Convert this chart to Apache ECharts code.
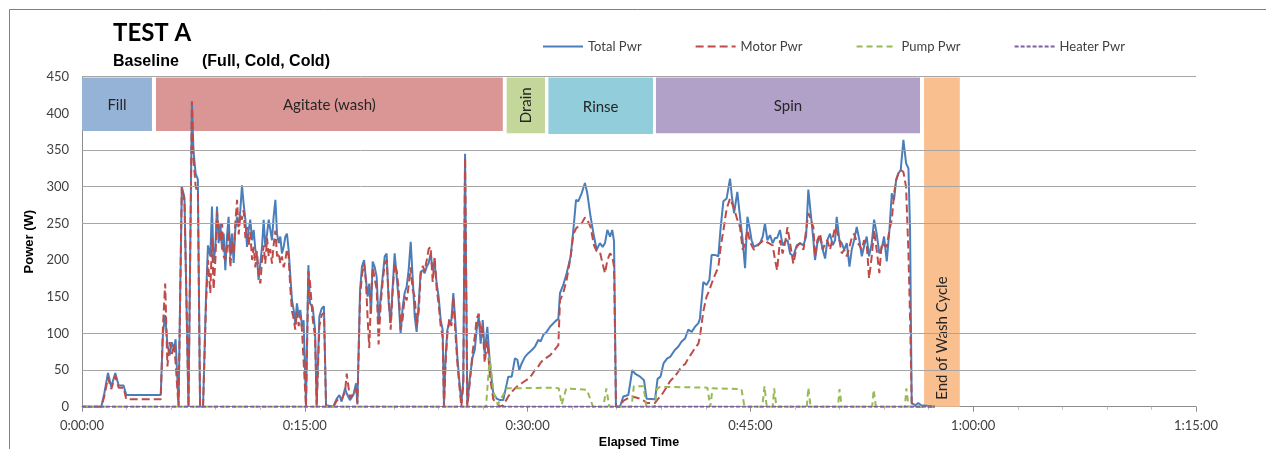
<!DOCTYPE html>
<html>
<head>
<meta charset="utf-8">
<script src="https://cdn.jsdelivr.net/npm/echarts@6/dist/echarts.min.js"></script>
<style>
html,body{margin:0;padding:0;background:#fff;overflow:hidden;}
#chart{width:1266px;height:449px;}
</style>
</head>
<body>
<div id="chart"></div>
<script>
// ---------- DATA (time in minutes, power in W) ----------
const times = [
  0, 1.3, 1.5, 1.75, 1.97, 2.24, 2.47, 2.8, 2.98, 5.3,
  5.45, 5.6, 5.75, 5.9, 6.05, 6.2, 6.3, 6.5, 6.72, 6.9, 7.17, 7.4, 7.5, 7.65, 7.8, 7.95, 8.15,
  8.35, 8.48, 8.64, 8.75, 8.86, 8.98, 9.09, 9.2, 9.31, 9.43, 9.54, 9.65, 9.76, 9.87, 9.99,
  10.1, 10.21, 10.32, 10.44, 10.55, 10.66, 10.77, 10.88, 11.0, 11.11, 11.22, 11.33, 11.45, 11.56, 11.67, 11.78, 11.89,
  12.01, 12.12, 12.23, 12.34, 12.46, 12.57, 12.68, 12.79, 12.9, 13.02, 13.13, 13.24, 13.35, 13.46, 13.58, 13.69, 13.8, 13.91,
  14.03, 14.14, 14.25, 14.36, 14.47, 14.59, 14.7, 14.81, 14.92, 15.08,
  15.24, 15.35, 15.53, 15.69, 15.8, 15.98, 16.14, 16.29, 16.43, 16.92, 17.15, 17.33, 17.48, 17.71, 17.82, 18.04, 18.27, 18.45, 18.54,
  18.72, 18.85, 18.99, 19.12, 19.23, 19.34, 19.46, 19.57, 19.7, 19.84, 19.97, 20.11, 20.24, 20.38, 20.51, 20.65, 20.78, 20.92,
  21.05, 21.19, 21.32, 21.45, 21.59, 21.72, 21.86, 21.99, 22.13, 22.26, 22.4, 22.53, 22.67, 22.8, 22.94, 23.07, 23.21, 23.34, 23.47,
  23.61, 23.74, 23.88, 24.01, 24.15, 24.28, 24.37, 24.48, 24.6, 24.73, 24.87, 25.0, 25.14, 25.27, 25.4, 25.54, 25.67, 25.79, 25.94,
  26.12, 26.3, 26.44, 26.57, 26.71, 26.84, 26.98, 27.11, 27.29, 27.47, 27.69, 27.92, 28.14,
  28.36, 28.7, 28.93, 29.15, 29.31, 29.44, 29.6, 29.82, 30.05, 30.27, 30.5, 30.72, 30.88, 31.06, 31.28, 31.51, 31.84, 32.07,
  32.18, 32.4, 32.63, 32.9, 33.08, 33.26, 33.41, 33.64, 33.86, 34.02, 34.24, 34.47, 34.65, 34.87, 35.05, 35.21, 35.37, 35.55, 35.7, 35.82,
  35.95, 36.22, 36.44, 36.78, 37.05, 37.23, 37.57, 37.84, 38.01, 38.58,
  38.75, 38.95, 39.15, 39.4, 39.6, 39.9, 40.15, 40.37, 40.6, 40.82, 41.05, 41.27, 41.5, 41.6, 41.83, 42.05, 42.24, 42.39, 42.62, 42.84,
  43.0, 43.18, 43.4, 43.63, 43.74, 43.9, 44.12, 44.3, 44.48, 44.64, 44.8, 44.97, 45.08, 45.24, 45.42, 45.65, 45.83, 45.98, 46.14, 46.32,
  46.5, 46.66, 46.8, 46.99, 47.17, 47.33, 47.5, 47.67, 47.89, 48.12, 48.34, 48.57, 48.75, 48.9, 49.06, 49.24, 49.35, 49.51, 49.69, 49.87,
  50.03, 50.18, 50.36, 50.54, 50.7, 50.81, 50.99, 51.15, 51.31, 51.49, 51.67, 51.82, 51.98, 52.16, 52.34, 52.5, 52.65, 52.83, 52.99,
  53.17, 53.33, 53.5, 53.68, 53.84, 54.0, 54.18, 54.36, 54.52, 54.67, 54.81, 54.96, 55.12, 55.3, 55.48, 55.64, 55.75, 55.86,
  56.1, 56.3, 56.5, 57.0, 57.4
];
const totalPwr = [
  0, 0, 18, 46, 27, 46, 29, 29, 16, 16,
  100, 125, 85, 70, 88, 78, 92, 2, 300, 285, 0, 416, 350, 318, 310, 0, 0,
  150, 220, 205, 273, 196, 218, 273, 223, 250, 214, 236, 186, 232, 259, 205,
  236, 196, 241, 259, 246, 268, 302, 277, 255, 218, 241, 255, 227, 241, 214, 205, 173,
  196, 218, 255, 218, 236, 255, 241, 227, 259, 282, 236, 223, 232, 209, 218, 232, 236, 214,
  177, 145, 132, 114, 141, 123, 132, 109, 118, 3,
  193, 141, 136, 105, 3, 123, 134, 137, 2, 0, 11, 16, 7, 25, 18, 9, 16, 32, 3,
  159, 191, 200, 202, 150, 168, 127, 198, 191, 177, 114, 150, 177, 205, 209, 141, 114, 164,
  209, 177, 145, 100, 136, 155, 164, 186, 225, 177, 123, 102, 141, 184, 186, 182, 191, 196, 209,
  186, 196, 168, 150, 118, 105, 3, 68, 105, 114, 118, 155, 114, 68, 36, 5, 36, 345, 3,
  41, 68, 77, 105, 123, 86, 118, 73, 109, 55, 18, 11, 9,
  9, 41, 41, 66, 64, 50, 59, 68, 73, 77, 82, 91, 89, 98, 102, 109, 116, 120,
  155, 166, 182, 205, 241, 282, 280, 291, 305, 291, 259, 232, 214, 223, 218, 223, 241, 232, 241, 225,
  0, 0, 14, 16, 50, 45, 41, 36, 11, 10,
  38, 41, 59, 66, 68, 77, 82, 89, 93, 105, 102, 109, 114, 120, 170, 166, 173, 207, 207, 205,
  245, 280, 284, 311, 289, 264, 293, 259, 227, 189, 259, 241, 227, 218, 220, 223, 232, 250, 227, 234,
  223, 230, 230, 241, 220, 225, 227, 209, 205, 220, 223, 220, 232, 296, 264, 227, 200, 223, 232, 214,
  202, 227, 236, 220, 227, 259, 227, 223, 214, 223, 191, 214, 227, 245, 227, 205, 218, 232, 205,
  223, 255, 236, 209, 216, 232, 198, 241, 291, 282, 309, 318, 323, 364, 332, 325, 241, 5,
  2, 5, 2, 1, 0
];
const motorPwr = [
  0, 0, 14, 40, 24, 42, 26, 26, 10, 10,
  110, 168, 55, 88, 72, 85, 60, 0, 300, 280, 0, 416, 340, 300, 292, 0, 0,
  140, 200, 155, 230, 160, 200, 265, 240, 225, 250, 205, 200, 215, 240, 190,
  225, 210, 250, 282, 235, 262, 255, 268, 230, 245, 220, 238, 200, 218, 190, 212, 180,
  168, 200, 220, 195, 230, 205, 215, 195, 220, 240, 205, 210, 195, 205, 190, 200, 215, 205,
  160, 130, 120, 105, 130, 110, 125, 105, 107, 0,
  185, 170, 120, 95, 0, 110, 125, 128, 0, 0, 8, 12, 10, 20, 45, 12, 18, 25, 5,
  150, 180, 195, 170, 120, 80, 150, 190, 175, 160, 85, 140, 170, 195, 200, 150, 105, 160,
  195, 185, 160, 105, 120, 150, 145, 165, 190, 160, 150, 110, 130, 180, 192, 185, 200, 215, 218,
  170, 205, 160, 140, 110, 95, 0, 60, 100, 120, 110, 150, 100, 60, 30, 0, 30, 340, 0,
  35, 75, 95, 120, 127, 100, 110, 60, 90, 40, 10, 5, 0,
  2, 14, 20, 25, 28, 30, 32, 35, 38, 43, 50, 55, 60, 64, 67, 70, 78, 84,
  145, 155, 173, 205, 235, 243, 246, 250, 258, 255, 245, 220, 212, 211, 195, 182, 200, 209, 205, 191,
  0, 0, 8, 12, 14, 13, 11, 8, 5, 5,
  10, 14, 20, 28, 35, 41, 48, 55, 58, 66, 73, 80, 86, 95, 130, 150, 159, 168, 180, 190,
  218, 240, 270, 284, 285, 270, 255, 245, 214, 222, 241, 225, 220, 214, 218, 223, 226, 227, 224, 222,
  220, 200, 186, 227, 209, 223, 245, 223, 195, 218, 223, 214, 240, 264, 255, 245, 205, 227, 236, 214,
  223, 227, 214, 230, 245, 240, 227, 209, 214, 205, 218, 230, 236, 225, 220, 214, 227, 222, 175,
  205, 241, 214, 182, 223, 220, 218, 241, 255, 290, 309, 318, 323, 320, 300, 210, 120, 5,
  0, 0, 0, 0, 0
];
const pumpTimes = [
  0, 27.2, 27.45, 27.7, 28.0, 28.6, 31.7, 32.1, 32.3, 32.6, 34.0, 34.4, 35.1, 35.3, 35.5,
  37.0, 37.15, 37.8, 38.0, 38.55, 38.7, 38.9, 42.1, 42.3, 42.45, 44.4, 44.6,
  45.8, 45.95, 46.1, 46.5, 46.6, 46.75, 48.8, 48.9, 49.05, 50.9, 51.0, 51.15,
  53.2, 53.3, 53.45, 55.4, 55.5, 55.65, 57.4
];
const pumpPwr = [
  0, 0, 68, 20, 3, 25, 26, 25, 3, 25, 23, 0, 0, 25, 0,
  0, 28, 28, 0, 0, 24, 27, 26, 0, 25, 24, 0,
  0, 28, 0, 0, 25, 0, 0, 26, 0, 0, 24, 0,
  0, 23, 0, 0, 25, 0, 0
];
const heaterTimes = [0, 57.4];
const heaterPwr = [0, 0];

const phaseNames = ['Fill', 'Agitate (wash)', 'Drain', 'Rinse', 'Spin', 'End of Wash Cycle'];
const phaseStart = [0, 4.98, 28.59, 31.4, 38.64, 56.69];
const phaseEnd = [4.71, 28.33, 31.17, 38.44, 56.42, 59.1];
const phaseTop = [449, 449, 449, 449, 449, 449];
const phaseBottom = [376, 376, 373, 372, 373, 0];

const gridValues = [50, 100, 250, 300, 350, 450];
const yTicks = { min: 0, max: 450, step: 50 };
const xTicks = { min: 0, max: 75, step: 15 };
const seriesNames = ['Total Pwr', 'Motor Pwr', 'Pump Pwr', 'Heater Pwr'];

// ---------- STYLE ----------
const phaseColors = ['#95B3D7', '#DA9694', '#C4D79B', '#92CDDC', '#B1A0C7', '#FABF8F'];
const phaseVertical = [false, false, true, false, false, true];
const FONT = 'Lato, "Open Sans", sans-serif';

function fmtTime(m) {
  const h = Math.floor(m / 60);
  const mm = Math.round(m - h * 60);
  return h + ':' + (mm < 10 ? '0' : '') + mm + ':00';
}

const chart = echarts.init(document.getElementById('chart'), null, { renderer: 'canvas' });

const option = {
  animation: false,
  backgroundColor: '#ffffff',
  grid: { left: 82, right: 70, top: 76.7, bottom: 42.3, containLabel: false, outerBoundsMode: 'none' },
  graphic: {
    elements: [
      { type: 'polyline', shape: { points: [[9.5, 449], [9.5, 9.5], [1266, 9.5]] }, style: { stroke: '#7f7f7f', lineWidth: 1, fill: null }, silent: true, z: 100 },
      { type: 'text', left: 113, top: 21, style: { text: 'TEST A', font: 'bold 24px ' + FONT, fill: '#000' } },
      { type: 'text', left: 113, top: 54, style: { text: 'Baseline', font: 'bold 16px "Liberation Sans", Arial, sans-serif', fill: '#000' } },
      { type: 'text', left: 202, top: 54, style: { text: '(Full, Cold, Cold)', font: 'bold 16px "Liberation Sans", Arial, sans-serif', fill: '#000' } }
    ]
  },
  legend: {
    data: seriesNames,
    left: 537,
    top: 35,
    itemWidth: 40,
    itemHeight: 14,
    itemGap: 53,
    selectedMode: false,
    itemStyle: { opacity: 0 },
    textStyle: { fontFamily: FONT, fontSize: 13, color: '#404040' }
  },
  xAxis: {
    type: 'value',
    min: xTicks.min,
    max: xTicks.max,
    interval: xTicks.step,
    name: 'Elapsed Time',
    nameLocation: 'middle',
    nameGap: 29,
    nameMoveOverlap: false,
    nameTextStyle: { fontFamily: '"Liberation Sans", Arial, sans-serif', fontWeight: 'bold', fontSize: 12.5, color: '#000' },
    axisLine: { show: true, onZero: false, lineStyle: { color: '#8c8c8c', width: 1 } },
    axisTick: { show: true, length: 5, lineStyle: { color: '#8c8c8c' } },
    minorTick: { show: true, splitNumber: 5, length: 3, lineStyle: { color: '#bfbfbf' } },
    axisLabel: { margin: 13, fontFamily: FONT, fontSize: 13, color: '#404040', formatter: fmtTime },
    splitLine: { show: false }
  },
  yAxis: {
    type: 'value',
    min: yTicks.min,
    max: yTicks.max,
    interval: yTicks.step,
    name: 'Power (W)',
    nameLocation: 'middle',
    nameGap: 46,
    nameRotate: 90,
    nameMoveOverlap: false,
    nameTextStyle: { fontFamily: '"Liberation Sans", Arial, sans-serif', fontWeight: 'bold', fontSize: 13, color: '#000' },
    axisLine: { show: true, lineStyle: { color: '#8c8c8c', width: 1 } },
    axisTick: { show: false },
    axisLabel: { margin: 13, fontFamily: FONT, fontSize: 13, color: '#404040' },
    splitLine: { show: false }
  },
  series: [
    {
      name: 'gridlines',
      type: 'line',
      data: [],
      z: 1,
      silent: true,
      markLine: {
        silent: true,
        symbol: ['none', 'none'],
        label: { show: false },
        lineStyle: { color: '#a6a6a6', width: 1, type: 'solid' },
        data: gridValues.map(v => ({ yAxis: v }))
      }
    },
    {
      name: 'phases',
      type: 'custom',
      z: 2,
      silent: true,
      data: phaseNames.map((n, i) => [phaseStart[i], phaseEnd[i], phaseBottom[i], phaseTop[i], i]),
      renderItem: function (params, api) {
        const i = api.value(4);
        const p1 = api.coord([api.value(0), api.value(3)]);
        const p2 = api.coord([api.value(1), api.value(2)]);
        const x = p1[0], y = p1[1], w = p2[0] - p1[0], h = p2[1] - p1[1];
        const children = [
          { type: 'rect', shape: { x: x, y: y, width: w, height: h }, style: { fill: phaseColors[i] } }
        ];
        const cx = x + w / 2;
        if (!phaseVertical[i]) {
          children.push({ type: 'text', x: cx, y: y + h / 2 + 1, style: { text: phaseNames[i], align: 'center', verticalAlign: 'middle', fontFamily: FONT, fontSize: 15, fill: '#262626' } });
        } else if (i === phaseNames.length - 1) {
          children.push({ type: 'text', x: cx, y: p2[1] - 7, rotation: Math.PI / 2, style: { text: phaseNames[i], align: 'left', verticalAlign: 'middle', fontFamily: FONT, fontSize: 15, fill: '#262626' } });
        } else {
          children.push({ type: 'text', x: cx, y: y + h / 2, rotation: Math.PI / 2, style: { text: phaseNames[i], align: 'center', verticalAlign: 'middle', fontFamily: FONT, fontSize: 15, fill: '#262626' } });
        }
        return { type: 'group', children: children };
      }
    },
    {
      name: 'Total Pwr',
      type: 'line',
      z: 3,
      symbol: 'none',
      data: times.map((t, i) => [t, totalPwr[i]]),
      itemStyle: { color: '#4A7EBB' },
      lineStyle: { color: '#4A7EBB', width: 2 }
    },
    {
      name: 'Motor Pwr',
      type: 'line',
      z: 4,
      symbol: 'none',
      data: times.map((t, i) => [t, motorPwr[i]]),
      itemStyle: { color: '#BE4B48' },
      lineStyle: { color: '#BE4B48', width: 2, type: [8, 4] }
    },
    {
      name: 'Pump Pwr',
      type: 'line',
      z: 5,
      symbol: 'none',
      data: pumpTimes.map((t, i) => [t, pumpPwr[i]]),
      itemStyle: { color: '#98B954' },
      lineStyle: { color: '#98B954', width: 2, type: [6, 4] }
    },
    {
      name: 'Heater Pwr',
      type: 'line',
      z: 6,
      symbol: 'none',
      data: heaterTimes.map((t, i) => [t, heaterPwr[i]]),
      itemStyle: { color: '#7D60A0' },
      lineStyle: { color: '#7D60A0', width: 2, type: [4, 2] }
    }
  ]
};
chart.setOption(option);
</script>
</body>
</html>
